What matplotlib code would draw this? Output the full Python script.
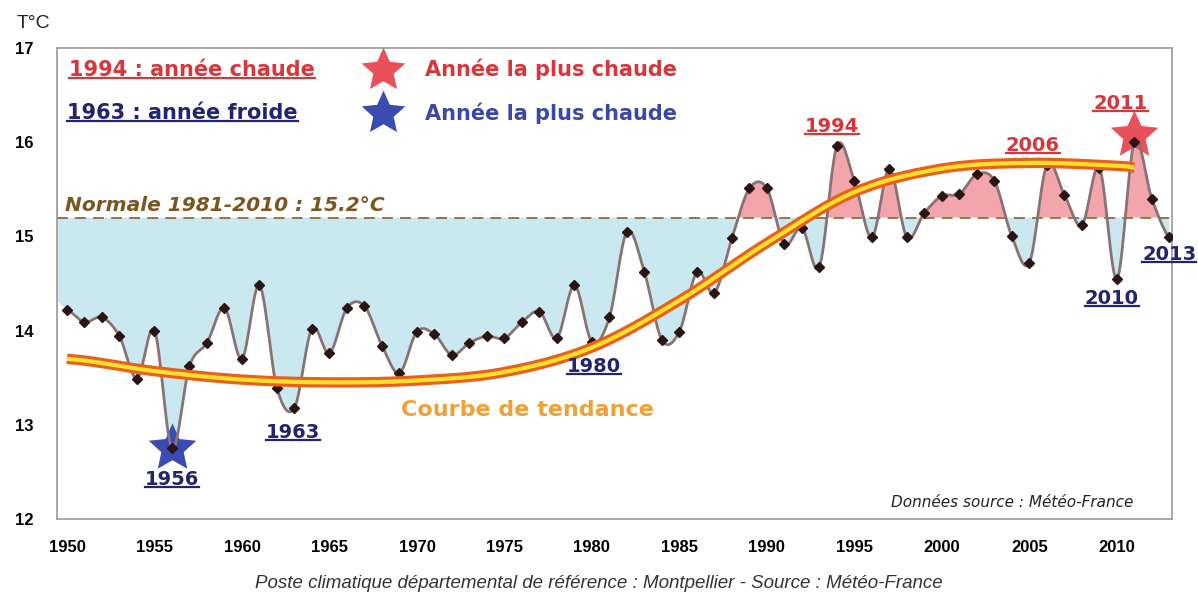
import numpy as np
import matplotlib.pyplot as plt
from matplotlib.lines import Line2D

# Annual mean temperature, Montpellier
years = list(range(1950, 2014))
temps = [14.22, 14.09, 14.14, 13.94, 13.49, 14.00, 12.75, 13.62, 13.87, 14.24,
         13.70, 14.48, 13.39, 13.18, 14.02, 13.76, 14.24, 14.26, 13.84, 13.55,
         13.99, 13.96, 13.74, 13.87, 13.94, 13.92, 14.09, 14.20, 13.92, 14.48,
         13.88, 14.14, 15.05, 14.62, 13.90, 13.99, 14.62, 14.40, 14.98, 15.51,
         15.51, 14.92, 15.09, 14.68, 15.96, 15.59, 14.99, 15.72, 14.99, 15.25,
         15.43, 15.45, 15.66, 15.59, 15.00, 14.72, 15.76, 15.44, 15.12, 15.73,
         14.55, 16.00, 15.40, 14.99]

trend_years = [1950, 1955, 1960, 1965, 1970, 1975, 1980, 1985, 1990, 1995, 2000, 2005, 2010, 2011]
trend_vals = [13.70, 13.57, 13.48, 13.45, 13.47, 13.56, 13.82, 14.32, 14.93, 15.47, 15.72, 15.78, 15.75, 15.73]

normal = 15.2
xticks = [1950, 1955, 1960, 1965, 1970, 1975, 1980, 1985, 1990, 1995, 2000, 2005, 2010]
yticks = [12, 13, 14, 15, 16, 17]

hot_labels = [1994, 2006, 2011]
cold_labels = [1956, 1963, 1980, 2010, 2013]

RED = '#d8363b'
NAVY = '#23246f'
BLUE_TXT = '#3a48a8'
STAR_RED = '#e8515a'
STAR_BLUE = '#3b4cb0'
BOLD = ['DejaVu Sans']

# fatter five-point star than matplotlib's '*'
ang = np.pi / 2 + np.arange(10) * np.pi / 5
rad = np.where(np.arange(10) % 2 == 0, 1.0, 0.47)
STAR = list(zip(rad * np.cos(ang), rad * np.sin(ang)))


def smooth(x, y, n=16):
    # Catmull-Rom curve through the points, for drawing only
    x = np.asarray(x, float)
    y = np.asarray(y, float)
    px = np.r_[2 * x[0] - x[1], x, 2 * x[-1] - x[-2]]
    py = np.r_[y[0], y, y[-1]]
    xs, ys = [], []
    t = np.linspace(0, 1, n, endpoint=False)
    for i in range(1, len(px) - 2):
        for p, out in ((px, xs), (py, ys)):
            p0, p1, p2, p3 = p[i - 1], p[i], p[i + 1], p[i + 2]
            out.extend(0.5 * (2 * p1 + (-p0 + p2) * t + (2 * p0 - 5 * p1 + 4 * p2 - p3) * t ** 2
                              + (-p0 + 3 * p1 - 3 * p2 + p3) * t ** 3))
    xs.append(x[-1])
    ys.append(y[-1])
    return np.array(xs), np.array(ys)


fig = plt.figure(figsize=(11.98, 5.97), dpi=100)
ax = fig.add_axes([57 / 1198, 1 - 519 / 597, 1115 / 1198, 471 / 597])
ax.set_xlim(1949.43, 2013.15)
ax.set_ylim(12, 17)

sx, sy = smooth(years, temps)
# fill extends to the left frame edge
fx = np.r_[ax.get_xlim()[0], sx]
fy = np.r_[sy[0] + 0.1, sy]
ax.fill_between(fx, fy, normal, where=fy < normal, interpolate=True, color='#c9e8f0', lw=0)
ax.fill_between(fx, fy, normal, where=fy > normal, interpolate=True, color='#f2a6ab', lw=0)

ax.axhline(normal, color='#8c6d3f', lw=1.3, dashes=(6, 4))
ax.plot(sx, sy, color='#8a7272', lw=2, zorder=3)
ax.plot(years, temps, ls='none', marker='D', ms=5.5, color='#2b1414', zorder=4)

tx, ty = smooth(trend_years, trend_vals, n=30)
ax.plot(tx, ty, color='#e8601e', lw=7.5, solid_capstyle='butt', zorder=5)
ax.plot(tx, ty, color='#ffe02a', lw=3, solid_capstyle='butt', zorder=6)

# stars on record years
i_hot = years.index(2011)
i_cold = years.index(1956)
ax.plot(years[i_hot], temps[i_hot] + 0.08, marker=STAR, ms=36, color=STAR_RED, zorder=2.5, mec='none')
ax.plot(years[i_cold], temps[i_cold], marker=STAR, ms=36, color=STAR_BLUE, zorder=2.5, mec='none')

ax.set_xticks(xticks)
ax.set_yticks(yticks)
ax.tick_params(length=0, labelsize=12, pad=15)
ax.tick_params(axis='y', pad=17)
for lab in ax.get_xticklabels() + ax.get_yticklabels():
    lab.set_fontweight('bold')
    lab.set_fontfamily('Liberation Sans')
for s in ax.spines.values():
    s.set_color('#a0a0a0')
    s.set_linewidth(1.3)

underlined = []

t = ax.text(1950.1, 16.77, '1994 : année chaude', color=RED, fontsize=15, fontweight='bold',
            family=BOLD, va='center')
underlined.append((t, RED))
t = ax.text(1950.0, 16.31, '1963 : année froide', color=NAVY, fontsize=15, fontweight='bold',
            family=BOLD, va='center')
underlined.append((t, NAVY))
ax.plot(1968.06, 16.77, marker=STAR, ms=33, color=STAR_RED, mec='none')
ax.plot(1968.06, 16.31, marker=STAR, ms=33, color=STAR_BLUE, mec='none')
ax.text(1970.46, 16.77, 'Année la plus chaude', color=RED, fontsize=15, fontweight='bold',
        family=BOLD, va='center')
ax.text(1970.46, 16.31, 'Année la plus chaude', color=BLUE_TXT, fontsize=15, fontweight='bold',
        family=BOLD, va='center')

ax.text(1949.9, 15.33, 'Normale 1981-2010 : 15.2°C', color='#7a5620', fontsize=14.5,
        fontweight='bold', style='italic', family=BOLD, va='center')
ax.text(1976.3, 13.16, 'Courbe de tendance', color='#f0a035', fontsize=16, fontweight='bold',
        family=BOLD, ha='center', va='center')

label_pos = {1994: (1993.7, 16.17), 2006: (2005.2, 15.97), 2011: (2010.2, 16.41),
             1956: (1956.0, 12.42), 1963: (1962.9, 12.92), 1980: (1980.1, 13.62),
             2010: (2009.7, 14.34), 2013: (2013.0, 14.81)}
for yr in hot_labels + cold_labels:
    c = RED if yr in hot_labels else NAVY
    x, y = label_pos[yr]
    t = ax.text(x, y, str(yr), color=c, fontsize=14, fontweight='bold', family=BOLD,
                ha='center', va='center', clip_on=False, zorder=7)
    underlined.append((t, c))

ax.text(0.965, 0.034, 'Données source : Météo-France', transform=ax.transAxes, ha='right',
        va='center', fontsize=11, style='italic', family=['DejaVu Sans'], color='#222222')

fig.text(33 / 1198, 1 - 24 / 597, 'T°C', ha='center', va='center', fontsize=14,
         family=['Liberation Sans'], color='#222222')
fig.text(0.5, 1 - 583 / 597,
         'Poste climatique départemental de référence : Montpellier - Source : Météo-France',
         ha='center', va='center', fontsize=13.5, style='italic', family=['Liberation Sans'],
         color='#333333')

renderer = fig.canvas.get_renderer()
W, H = fig.bbox.width, fig.bbox.height
for t, c in underlined:
    bb = t.get_window_extent(renderer)
    y = (bb.y0 + 2) / H
    fig.add_artist(Line2D([bb.x0 / W, bb.x1 / W], [y, y], color=c, lw=1.6))

fig.savefig('out.png', dpi=100)
